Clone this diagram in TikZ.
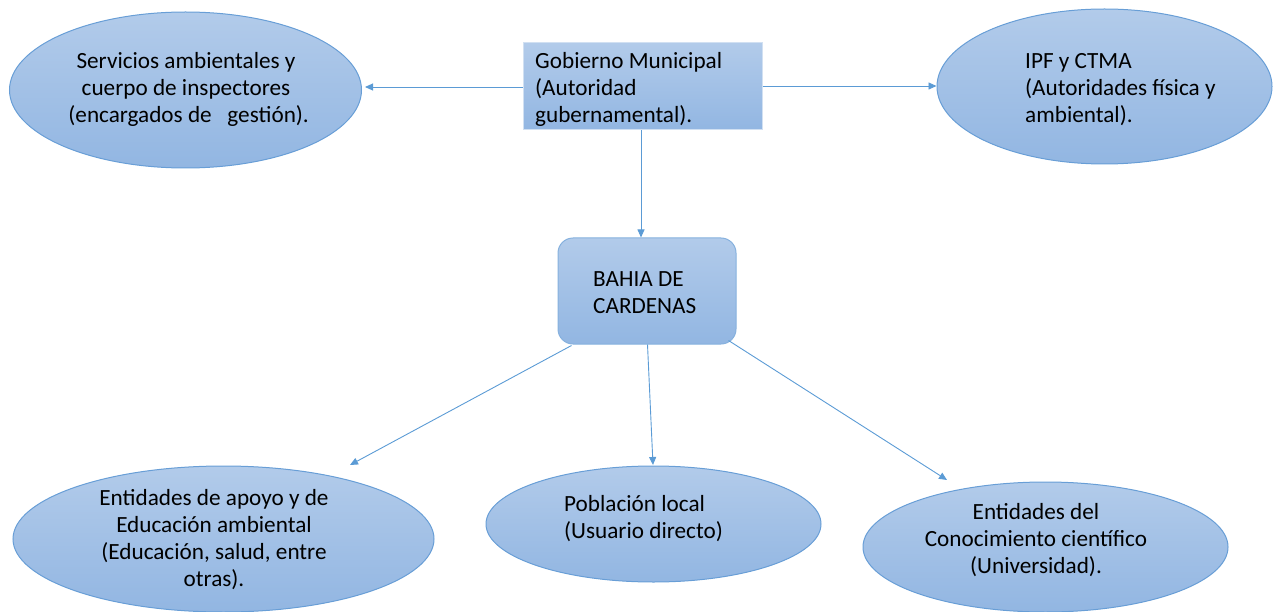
\documentclass[tikz,border=0pt]{standalone}
\usepackage{fontspec}
\setmainfont{Carlito}
\usetikzlibrary{shapes.geometric,arrows.meta,calc}
\definecolor{topc}{RGB}{178,203,234}
\definecolor{botc}{RGB}{146,182,226}
\definecolor{edge}{RGB}{104,158,214}
\definecolor{lin}{RGB}{91,155,213}
\tikzset{
  oval/.style={ellipse, draw=edge, line width=1pt, top color=topc, bottom color=botc, inner sep=0pt},
  box/.style={rectangle, draw=topc!60!white, line width=1pt, top color=topc, bottom color=botc, inner sep=0pt},
  rbox/.style={rectangle, rounded corners=15pt, draw=edge!80!white, line width=1pt, top color=topc, bottom color=botc, inner sep=0pt},
  lbl/.style={inner sep=0pt, text=black, font=\fontsize{23.2}{27}\selectfont},
  arr/.style={draw=lin, line width=0.9pt, -{Triangle[length=8pt,width=7pt]}}
}
\begin{document}
\begin{tikzpicture}[x=1pt,y=-1pt]
\useasboundingbox (0,0) rectangle (1273,612);
% shapes
\node[oval, minimum width=352pt, minimum height=156pt] (e1) at (185.5,90) {};
\node[box, minimum width=239pt, minimum height=87pt] (gob) at (642.5,86.5) {};
\node[oval, minimum width=335pt, minimum height=155pt] (e2) at (1104.5,86.5) {};
\node[rbox, minimum width=178pt, minimum height=106pt] (bahia) at (647,291) {};
\node[oval, minimum width=421pt, minimum height=146pt] (e4) at (223.5,539) {};
\node[oval, minimum width=335pt, minimum height=116pt] (e5) at (653.5,524) {};
\node[oval, minimum width=365pt, minimum height=130pt] (e6) at (1045.5,547) {};
% texts
\node[lbl, align=center] (t1) at (186,89) {Servicios ambientales y\\cuerpo de inspectores\\\ (encargados de\ \ \ gestión).};
\node[lbl, align=left, anchor=west] (t2) at (535,89) {Gobierno Municipal\\(Autoridad\\gubernamental).};
\node[lbl, align=left, anchor=west] (t3) at (1025,89.5) {IPF y CTMA\\(Autoridades física y\\ambiental).};
\node[lbl, align=left, anchor=west] (t4) at (593,292.5) {BAHIA DE\\CARDENAS};
\node[lbl, align=center] (t5) at (214,539.5) {Entidades de apoyo y de\\Educación ambiental\\(Educación, salud, entre\\otras).};
\node[lbl, align=left, anchor=west] (t6) at (564,518.5) {Población local\\(Usuario directo)};
\node[lbl, align=center] (t7) at (1036,540.5) {Entidades del\\Conocimiento científico\\(Universidad).};
% free ends
\coordinate (p4) at (350,465);
\coordinate (p5) at (653,465);
\coordinate (p6) at (947,480);
% connectors
\draw[arr, shorten >=3pt] (gob.west |- 0,87) -- (e1.east |- 0,87);
\draw[arr] (gob.east |- 0,86) -- (e2.west |- 0,86);
\draw[arr] (gob.south -| 641,0) -- (bahia.north -| 641,0);
\draw[arr] ($(bahia.south west)+(14,1)$) -- (p4);
\draw[arr] ($(bahia.south west)+(90,0)$) -- (p5);
\draw[arr] ($(bahia.south east)+(-8,-4)$) -- (p6);
\end{tikzpicture}
\end{document}
